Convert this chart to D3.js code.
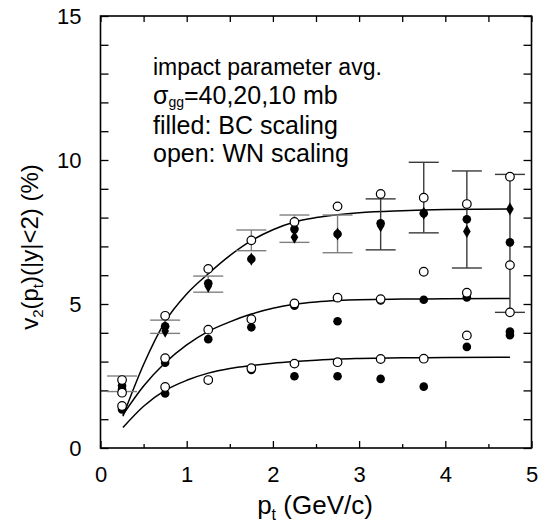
<!DOCTYPE html>
<html><head><meta charset="utf-8">
<script src="https://cdn.jsdelivr.net/npm/d3@7"></script>
<style>
html,body{margin:0;padding:0;background:#fff;}
svg{display:block;font-family:"Liberation Sans",Arial,Helvetica,sans-serif;}
</style></head>
<body><svg id="c" width="550" height="527"></svg>
<script>
// ---- data ----
const ptBins   = [0.25, 0.75, 1.25, 1.75, 2.25, 2.75, 3.25, 3.75, 4.25, 4.75];
const open40   = [2.36, 4.59, 6.22, 7.21, 7.85, 8.39, 8.82, 8.69, 8.47, 9.42];
const filled40 = [2.16, 4.23, 5.72, 6.56, 7.60, 7.43, 7.80, 8.15, 7.94, 7.14];
const open20   = [1.92, 3.12, 4.11, 4.47, 5.02, 5.22, 5.17, 6.12, 5.39, 6.35];
const filled20 = [2.04, 2.96, 3.78, 4.19, 4.94, 4.40, 5.12, 5.15, 5.23, 4.04];
const open10   = [1.46, 2.12, 2.36, 2.77, 2.93, 2.98, 3.09, 3.10, 3.91, 4.71];
const filled10 = [1.34, 1.89, 2.36, 2.71, 2.49, 2.49, 2.40, 2.13, 3.51, 3.92];
const dataDiamond = [2.10, 4.06, 5.62, 6.56, 7.32, 7.43, 7.72, 8.15, 7.52, 8.30];
const errPtGrey  = [0.25, 0.75, 1.25, 1.75, 2.25, 2.75];
const errLoGrey  = [1.96, 3.98, 5.41, 6.85, 7.14, 6.78];
const errHiGrey  = [2.50, 4.44, 5.97, 7.57, 8.09, 8.09];
const errPtDark  = [3.25, 3.75, 4.25, 4.75];
const errLoDark  = [6.88, 7.47, 6.25, 4.71];
const errHiDark  = [8.65, 9.92, 9.62, 9.50];
const curvePt  = [0.26, 0.5, 0.75, 1.0, 1.25, 1.5, 1.75, 2.0, 2.25, 2.5, 2.75, 3.0, 3.5, 4.0, 4.75];
const curve40  = [1.10, 2.90, 4.39, 5.35, 6.05, 6.68, 7.20, 7.58, 7.85, 8.00, 8.10, 8.17, 8.24, 8.28, 8.30];
const curve20  = [1.15, 2.15, 2.96, 3.58, 4.05, 4.38, 4.65, 4.85, 4.99, 5.07, 5.12, 5.15, 5.17, 5.18, 5.19];
const curve10  = [0.71, 1.45, 2.00, 2.35, 2.60, 2.76, 2.86, 2.94, 3.00, 3.05, 3.09, 3.11, 3.13, 3.14, 3.15];
const xMajor = [0, 1, 2, 3, 4, 5];
const xMinor = [0.5, 1.5, 2.5, 3.5, 4.5];
const yTicks = d3.range(0, 16, 1);
const yLabels = [0, 5, 10, 15];
const notes = ["impact parameter avg.", "σ|gg|=40,20,10 mb", "filled: BC scaling", "open: WN scaling"];

// ---- layout ----
const svg = d3.select("#c");
const L = 100.5, R = 531.5, T = 16, B = 448;
const x = d3.scaleLinear().domain([0, 5]).range([L, R]);
const y = d3.scaleLinear().domain([0, 15]).range([B, T]);
const FONT = 22;

function styleAxis(g){
  g.select(".domain").remove();
  g.selectAll(".tick line").attr("stroke", "#000").attr("stroke-width", 1.3);
  g.selectAll("text").attr("font-size", FONT).attr("fill", "#000")
   .attr("font-family", '"Liberation Sans",Arial,sans-serif');
}
svg.append("g").attr("transform", `translate(0,${B})`)
  .call(d3.axisBottom(x).tickValues(xMajor).tickSize(-7).tickPadding(18).tickFormat(d3.format("d")))
  .call(styleAxis);
svg.append("g").attr("transform", `translate(0,${B})`)
  .call(d3.axisBottom(x).tickValues(xMinor).tickSize(-4).tickFormat(""))
  .call(styleAxis);
svg.append("g").attr("transform", `translate(0,${T})`)
  .call(d3.axisTop(x).tickValues(xMajor.concat(xMinor)).tickSize(-6).tickFormat(""))
  .call(styleAxis);
svg.append("g").attr("transform", `translate(${L},0)`)
  .call(d3.axisLeft(y).tickValues(yTicks).tickSize(-8).tickPadding(19)
        .tickFormat(d => yLabels.includes(d) ? d : ""))
  .call(styleAxis);
svg.append("g").attr("transform", `translate(${R},0)`)
  .call(d3.axisRight(y).tickValues(yTicks).tickSize(-8).tickFormat(""))
  .call(styleAxis);
svg.append("rect").attr("x", L).attr("y", T).attr("width", R - L).attr("height", B - T)
  .attr("fill", "none").attr("stroke", "#000").attr("stroke-width", 1.6);

const line = d3.line().x(d => x(d[0])).y(d => y(d[1])).curve(d3.curveMonotoneX);
[curve40, curve20, curve10].forEach(c => {
  svg.append("path").attr("d", line(curvePt.map((p, i) => [p, c[i]])))
    .attr("fill", "none").attr("stroke", "#000").attr("stroke-width", 1.5);
});

function errBars(pts, lo, hi, col){
  const g = svg.append("g").attr("stroke", col).attr("stroke-width", 1.4).attr("fill", "none");
  pts.forEach((p, i) => {
    g.append("line").attr("x1", x(p)).attr("x2", x(p)).attr("y1", y(lo[i])).attr("y2", y(hi[i]));
    [lo[i], hi[i]].forEach(v => g.append("line").attr("x1", x(p) - 15).attr("x2", x(p) + 15)
      .attr("y1", y(v)).attr("y2", y(v)));
  });
}
errBars(errPtGrey, errLoGrey, errHiGrey, "#808080");
errBars(errPtDark, errLoDark, errHiDark, "#3a3a3a");

const r = 4.3;
[filled40, filled20, filled10].forEach(s => {
  svg.append("g").selectAll("circle").data(ptBins.map((p, i) => [p, s[i]])).join("circle")
    .attr("cx", d => x(d[0])).attr("cy", d => y(d[1])).attr("r", r).attr("fill", "#000");
});
const dsym = d3.symbol().type(d3.symbolDiamond).size(50);
svg.append("g").selectAll("path").data(ptBins.map((p, i) => [p, dataDiamond[i]])).join("path")
  .attr("d", dsym).attr("transform", d => `translate(${x(d[0])},${y(d[1])})`).attr("fill", "#000");
[open40, open20, open10].forEach(s => {
  svg.append("g").selectAll("circle").data(ptBins.map((p, i) => [p, s[i]])).join("circle")
    .attr("cx", d => x(d[0])).attr("cy", d => y(d[1])).attr("r", r)
    .attr("fill", "#fff").attr("stroke", "#000").attr("stroke-width", 1.2);
});

// annotation block
const noteY = [75, 104, 133.5, 161.5];
const noteSize = [23, 25, 25, 25];
notes.forEach((t, i) => {
  const txt = svg.append("text").attr("x", 153).attr("y", noteY[i]).attr("font-size", noteSize[i]);
  const parts = t.split("|");
  if (parts.length === 1) { txt.text(t); return; }
  txt.append("tspan").text(parts[0]);
  txt.append("tspan").attr("dy", 3).attr("font-size", 14).text(parts[1]);
  txt.append("tspan").attr("dy", -3).text(parts[2]);
});

// x title
const xt = svg.append("text").attr("x", 315).attr("y", 514).attr("text-anchor", "middle").attr("font-size", 26);
xt.append("tspan").text("p");
xt.append("tspan").attr("dy", 6).attr("font-size", 16).text("t");
xt.append("tspan").attr("dy", -6).text(" (GeV/c)");

// y title
const yt = svg.append("text").attr("transform", "translate(38,247) rotate(-90)").attr("text-anchor", "middle").attr("font-size", 24);
yt.append("tspan").text("v");
yt.append("tspan").attr("dy", 5).attr("font-size", 15).text("2");
yt.append("tspan").attr("dy", -5).text("(p");
yt.append("tspan").attr("dy", 5).attr("font-size", 15).text("t");
yt.append("tspan").attr("dy", -5).text(")(|y|<2) (%)");
</script></body></html>
